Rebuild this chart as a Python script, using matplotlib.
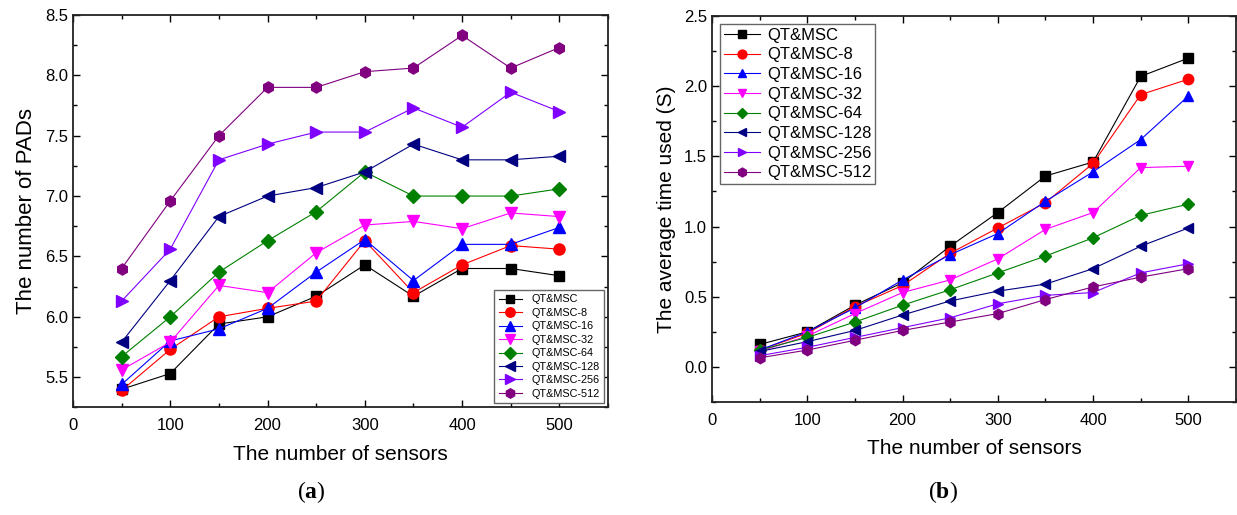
import numpy as np
import matplotlib
matplotlib.use('Agg')
import matplotlib.pyplot as plt
from matplotlib.ticker import MultipleLocator

plt.rcParams['font.family'] = ['Liberation Sans', 'DejaVu Sans']
plt.rcParams['mathtext.fontset'] = 'custom'
plt.rcParams['mathtext.rm'] = 'Liberation Serif'
plt.rcParams['mathtext.bf'] = 'Liberation Serif:bold'

sensors = [50, 100, 150, 200, 250, 300, 350, 400, 450, 500]
names = ['QT&MSC', 'QT&MSC-8', 'QT&MSC-16', 'QT&MSC-32',
         'QT&MSC-64', 'QT&MSC-128', 'QT&MSC-256', 'QT&MSC-512']

# (a) number of PADs
pads_0 = [5.40, 5.53, 5.94, 6.00, 6.17, 6.43, 6.17, 6.40, 6.40, 6.34]
pads_8 = [5.39, 5.73, 6.00, 6.07, 6.13, 6.63, 6.20, 6.43, 6.59, 6.56]
pads_16 = [5.44, 5.80, 5.90, 6.07, 6.37, 6.64, 6.30, 6.60, 6.60, 6.74]
pads_32 = [5.56, 5.79, 6.26, 6.20, 6.53, 6.76, 6.79, 6.73, 6.86, 6.83]
pads_64 = [5.67, 6.00, 6.37, 6.63, 6.87, 7.20, 7.00, 7.00, 7.00, 7.06]
pads_128 = [5.79, 6.30, 6.83, 7.00, 7.07, 7.20, 7.43, 7.30, 7.30, 7.33]
pads_256 = [6.13, 6.56, 7.30, 7.43, 7.53, 7.53, 7.73, 7.57, 7.86, 7.70]
pads_512 = [6.40, 6.96, 7.50, 7.90, 7.90, 8.03, 8.06, 8.33, 8.06, 8.23]

# (b) average time used
time_0 = [0.16, 0.25, 0.44, 0.60, 0.86, 1.10, 1.36, 1.46, 2.07, 2.20]
time_8 = [0.12, 0.24, 0.43, 0.58, 0.81, 0.99, 1.17, 1.45, 1.94, 2.05]
time_16 = [0.12, 0.25, 0.42, 0.62, 0.80, 0.95, 1.18, 1.39, 1.62, 1.93]
time_32 = [0.11, 0.22, 0.38, 0.53, 0.62, 0.77, 0.98, 1.10, 1.42, 1.43]
time_64 = [0.12, 0.21, 0.32, 0.44, 0.55, 0.67, 0.79, 0.92, 1.08, 1.16]
time_128 = [0.11, 0.18, 0.26, 0.37, 0.47, 0.54, 0.59, 0.70, 0.86, 0.99]
time_256 = [0.08, 0.14, 0.21, 0.28, 0.35, 0.45, 0.51, 0.53, 0.67, 0.735]
time_512 = [0.065, 0.12, 0.19, 0.26, 0.32, 0.38, 0.48, 0.57, 0.64, 0.70]

colors = ['#000000', '#ff0000', '#0000ff', '#ff00ff',
          '#008000', '#000080', '#8000ff', '#800080']
markers = ['s', 'o', '^', 'v', 'D', '<', '>', 'h']
msizes = [7, 8, 8, 8, 7, 8, 8, 8]

pads = [pads_0, pads_8, pads_16, pads_32, pads_64, pads_128, pads_256, pads_512]
times = [time_0, time_8, time_16, time_32, time_64, time_128, time_256, time_512]

fig = plt.figure(figsize=(12.37, 5.15), dpi=100)
ax1 = fig.add_axes([0.059, 0.209, 0.4325, 0.762])
ax2 = fig.add_axes([0.5756, 0.2194, 0.4236, 0.7495])


def style_axis(ax, ymaj):
    ax.set_xlim(0, 550)
    ax.xaxis.set_major_locator(MultipleLocator(100))
    ax.xaxis.set_minor_locator(MultipleLocator(50))
    ax.yaxis.set_major_locator(MultipleLocator(ymaj))
    ax.yaxis.set_minor_locator(MultipleLocator(ymaj / 2))
    ax.tick_params(which='both', direction='in', top=True, right=True,
                   labelsize=12, width=1.0)
    ax.tick_params(which='major', length=5)
    ax.tick_params(which='minor', length=3)
    ax.tick_params(axis='x', pad=8)
    for s in ax.spines.values():
        s.set_linewidth(1.3)
        s.set_color('#222222')
    ax.set_xlabel('The number of sensors', fontsize=15, labelpad=8)


for i in range(8):
    ax1.plot(sensors, pads[i], color=colors[i], marker=markers[i],
             markersize=msizes[i], lw=0.8, label=names[i])
    ax2.plot(sensors, times[i], color=colors[i], marker=markers[i],
             markersize=msizes[i] - 0.5, lw=0.8, label=names[i])

style_axis(ax1, 0.5)
ax1.set_ylim(5.25, 8.5)
ax1.set_ylabel('The number of PADs', fontsize=16, labelpad=6)
ax1.yaxis.set_major_formatter(plt.FormatStrFormatter('%.1f'))
leg1 = ax1.legend(loc='lower right', fontsize=7.8, markerscale=0.85,
                  handlelength=2.2, labelspacing=0.32, borderpad=0.4,
                  borderaxespad=0.4, fancybox=False, framealpha=1,
                  edgecolor='#666666')

style_axis(ax2, 0.5)
ax2.set_ylim(-0.25, 2.5)
ax2.set_ylabel('The average time used (S)', fontsize=15, labelpad=6)
ax2.yaxis.set_major_formatter(plt.FormatStrFormatter('%.1f'))
leg2 = ax2.legend(loc='upper left', fontsize=12, markerscale=0.85,
                  handlelength=2.2, labelspacing=0.28, borderpad=0.2,
                  borderaxespad=0.5, handletextpad=0.4, fancybox=False,
                  framealpha=1, edgecolor='#666666')

fig.text(0.2514, 0.045, r'$(\mathbf{a})$', fontsize=17, ha='center', va='center')
fig.text(0.762, 0.045, r'$(\mathbf{b})$', fontsize=17, ha='center', va='center')

fig.savefig('out.png', dpi=100)
